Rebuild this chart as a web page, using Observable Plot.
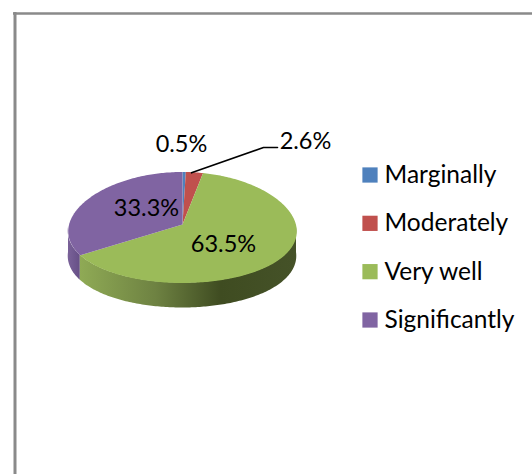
<!DOCTYPE html>
<html><head><meta charset="utf-8">
<script src="https://cdn.jsdelivr.net/npm/d3@7"></script>
<script src="https://cdn.jsdelivr.net/npm/@observablehq/plot@0.6"></script>
<style>html,body{margin:0;padding:0;background:#fff}svg{display:block}</style>
</head><body><div id="chart"></div>
<script>
const categories = ["Marginally", "Moderately", "Very well", "Significantly"];
const shares = [0.5, 2.6, 63.5, 33.3];
const shareLabels = ["0.5%", "2.6%", "63.5%", "33.3%"];
const colors = ["#4f81bd", "#c0504d", "#9bbb59", "#8064a2"];

const cx = 182, cy = 227, rx = 114, ry = 55.5, apexLift = 3, depth = 25, perspective = 0.07;
const W = 532, H = 474;
const arcs = d3.pie().sort(null).value(d => d)(shares);
const px = a => cx + rx * Math.sin(a) * (1 - perspective * Math.cos(a));
const py = a => cy - ry * Math.cos(a);
const steps = (a0, a1) => {
  const n = Math.max(2, Math.ceil(Math.abs(a1 - a0) * 60));
  return d3.range(n + 1).map(i => a0 + (a1 - a0) * i / n);
};
const tops = arcs.flatMap((s, i) => [
  {name: categories[i], x: cx, y: cy - apexLift},
  ...steps(s.startAngle, s.endAngle).map(a => ({name: categories[i], x: px(a), y: py(a)}))
]);
const wall = (a0, a1, name) => steps(a0, a1).map(a => ({name, x: px(a), y1: py(a), y2: py(a) + depth}));
const green = arcs[2], purple = arcs[3];
const greenWall = wall(Math.PI / 2, green.endAngle, "Very well");
const purpleWall = wall(purple.startAngle, 1.5 * Math.PI, "Significantly");

const gradient = () => {
  const defs = d3.create("svg:defs");
  const add = (id, stops) => {
    const g = defs.append("linearGradient").attr("id", id).attr("x1", 0).attr("x2", 1).attr("y1", 0).attr("y2", 0);
    stops.forEach(([o, c]) => g.append("stop").attr("offset", o).attr("stop-color", c));
  };
  add("gw", [[0, "#8faa55"], [0.35, "#6e8242"], [0.65, "#3f4c21"], [1, "#455228"]]);
  add("pw", [[0, "#7a6299"], [1, "#664f86"]]);
  return defs.node();
};

const legendRows = categories.map((name, i) => ({name, row: i}));
const legendY = d3.scaleLinear().domain([0, 3]).range([174.5, 319.5]);
const labelOffsets = [[-1, -83], [123, -86], [41, 17], [-36, -19]];
const labelData = arcs.map((s, i) => ({
  text: shareLabels[i],
  x: cx + labelOffsets[i][0],
  y: cy + labelOffsets[i][1]
}));
const redMid = (arcs[1].startAngle + arcs[1].endAngle) / 2;
const leader = [
  {x: px(redMid) - 3, y: py(redMid) + 0.5},
  {x: 263, y: 147},
  {x: 277, y: 147}
];

const chart = Plot.plot({
  width: W, height: H, margin: 0,
  x: {domain: [0, W], axis: null},
  y: {domain: [H, 0], axis: null},
  color: {domain: categories, range: colors},
  style: {background: "#fff"},
  marks: [
    gradient,
    Plot.ruleX([14.5], {y1: 12, y2: H, stroke: "#8a8a8a", strokeWidth: 3}),
    Plot.ruleY([13], {x1: 13, x2: W, stroke: "#8a8a8a", strokeWidth: 2.5}),
    Plot.areaY(purpleWall, {x: "x", y1: "y1", y2: "y2", fill: "url(#pw)"}),
    Plot.areaY(greenWall, {x: "x", y1: "y1", y2: "y2", fill: "url(#gw)"}),
    Plot.line(tops, {x: "x", y: "y", z: "name", fill: "name", stroke: "none"}),
    Plot.line(leader, {x: "x", y: "y", stroke: "#000", strokeWidth: 1.6, curve: "linear"}),
    Plot.text(labelData, {x: "x", y: "y", text: "text", fontSize: 23.5, fill: "#000", fontFamily: "Lato"}),
    Plot.dot(legendRows, {x: 369.5, y: d => legendY(d.row), symbol: "square", r: 8.6, fill: "name", stroke: "none"}),
    Plot.text(legendRows, {x: 384, y: d => legendY(d.row), text: "name", textAnchor: "start", fontSize: 24.5, fill: "#000", fontFamily: "Lato"})
  ]
});
document.getElementById("chart").append(chart);
</script></body></html>
